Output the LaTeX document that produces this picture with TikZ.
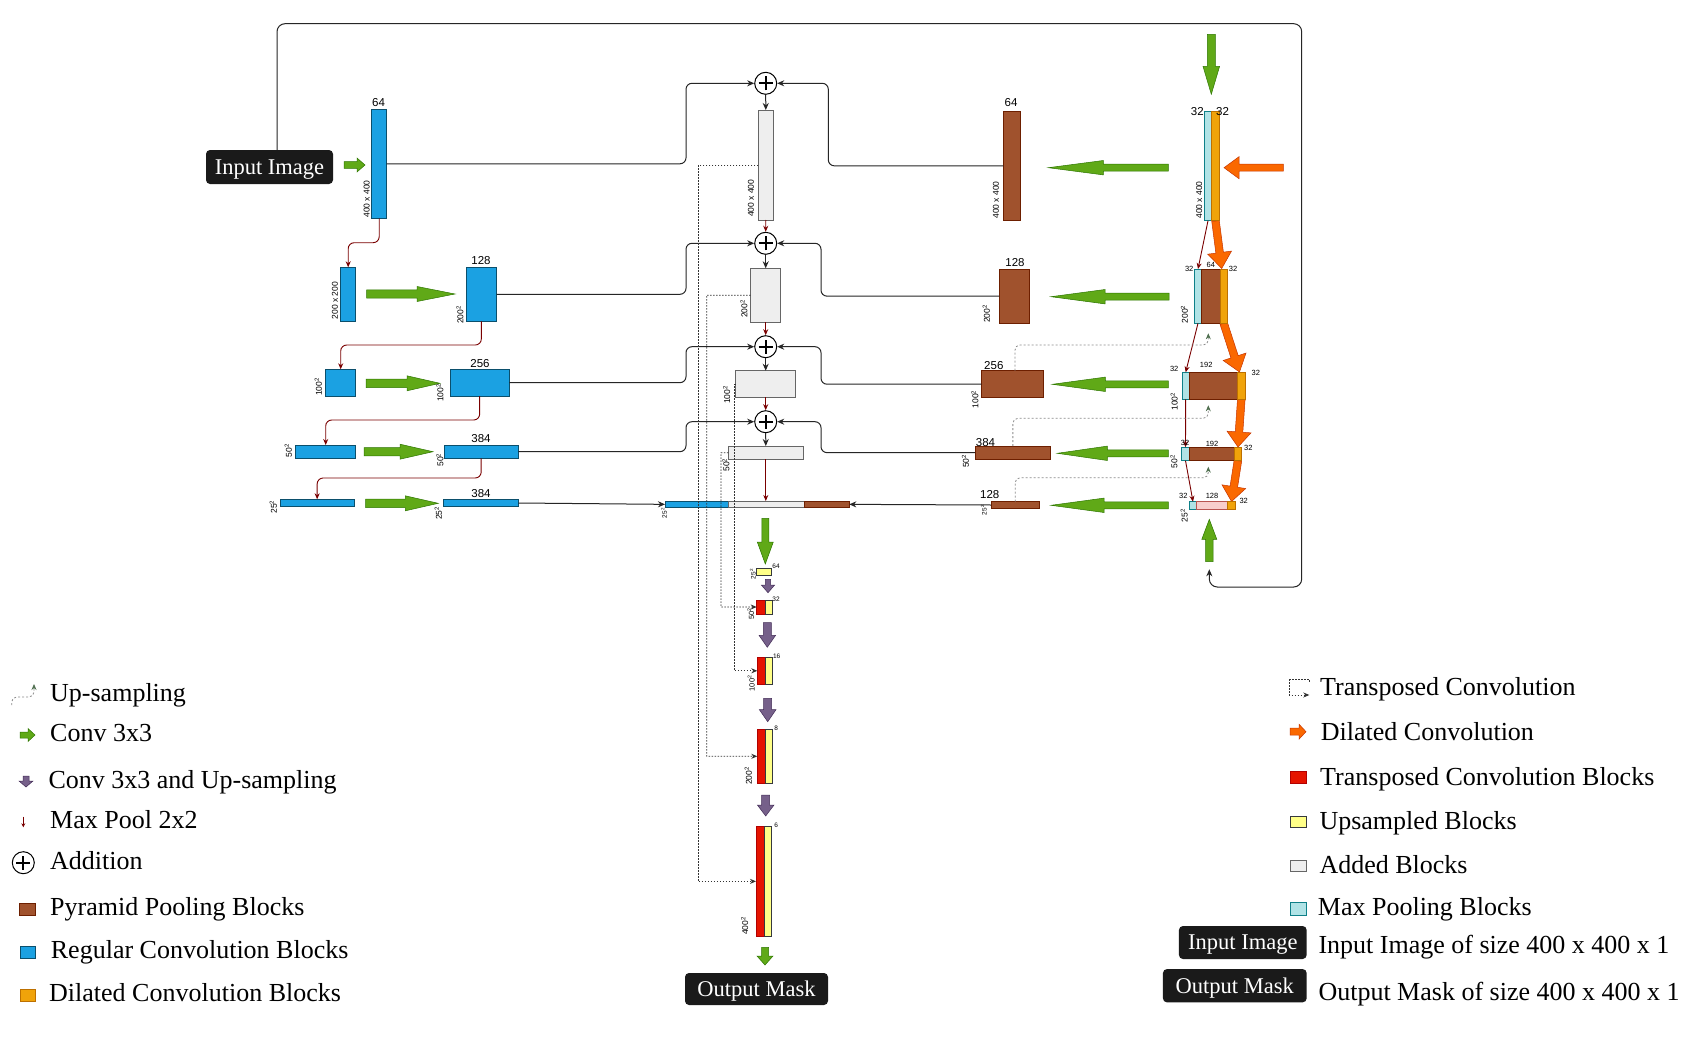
\documentclass[tikz,border=0pt]{standalone}
\usepackage{fontspec}
\setmainfont{Liberation Serif}
\setsansfont{Liberation Sans}
\usetikzlibrary{calc,arrows.meta}
\definecolor{cblue}{HTML}{1BA1E2}
\definecolor{cbluedk}{HTML}{0B4F6C}
\definecolor{cbrown}{HTML}{A0522D}
\definecolor{cbrowndk}{HTML}{6D1F00}
\definecolor{cgray}{HTML}{EEEEEE}
\definecolor{cgraydk}{HTML}{666666}
\definecolor{ccyan}{HTML}{B0E3E6}
\definecolor{ccyandk}{HTML}{0E8088}
\definecolor{corange}{HTML}{F0A30A}
\definecolor{corangedk}{HTML}{BD7000}
\definecolor{cdil}{HTML}{FA6800}
\definecolor{cdildk}{HTML}{C73500}
\definecolor{cgreen}{HTML}{60A917}
\definecolor{cgreendk}{HTML}{2D7600}
\definecolor{cpurple}{HTML}{76608A}
\definecolor{cpurpledk}{HTML}{432D57}
\definecolor{cred}{HTML}{E51400}
\definecolor{creddk}{HTML}{B20000}
\definecolor{cyellow}{HTML}{FFFF88}
\definecolor{cyellowdk}{HTML}{36393D}
\definecolor{cpink}{HTML}{F8CECC}
\definecolor{cpinkdk}{HTML}{B85450}
\definecolor{cpool}{HTML}{7A0000}
\definecolor{cbox}{HTML}{1A1A1A}
\definecolor{cup}{HTML}{4F6F4F}

\newcommand{\mkblock}[6]{\node[#2, minimum width={(#5)-(#3)}, minimum height={(#6)-(#4)}] (#1) at ({((#3)+(#5))/2},{((#4)+(#6))/2}) {};}
\newcommand{\barrow}[6]{%
 \coordinate (ba-s) at (#2);
 \coordinate (ba-e) at (#3);
 \coordinate (ba-h) at ($(ba-e)!#6pt!(ba-s)$);
 \draw[#1] ($(ba-s)!#4pt!90:(ba-e)$) -- ($(ba-h)!#4pt!-90:(ba-s)$) -- ($(ba-h)!#5pt!-90:(ba-s)$) -- (ba-e) -- ($(ba-h)!#5pt!90:(ba-s)$) -- ($(ba-h)!#4pt!90:(ba-s)$) -- ($(ba-s)!#4pt!-90:(ba-e)$) -- cycle;}

\tikzset{
 blkbase/.style={inner sep=0pt, outer sep=0pt, line width=0.8pt},
 blueblk/.style={blkbase, fill=cblue, draw=cbluedk},
 brownblk/.style={blkbase, fill=cbrown, draw=cbrowndk},
 grayblk/.style={blkbase, fill=cgray, draw=cgraydk},
 cyanblk/.style={blkbase, fill=ccyan, draw=ccyandk},
 orangeblk/.style={blkbase, fill=corange, draw=corangedk},
 redblk/.style={blkbase, fill=cred, draw=creddk},
 yelblk/.style={blkbase, fill=cyellow, draw=cyellowdk},
 pinkblk/.style={blkbase, fill=cpink, draw=cpinkdk},
 garrow/.style={fill=cgreen, draw=cgreendk, line width=0.5pt},
 oarrow/.style={fill=cdil, draw=cdildk, line width=0.5pt},
 parrow/.style={fill=cpurple, draw=cpurpledk, line width=0.5pt},
 conn/.style={draw=black!85, line width=1pt, rounded corners=6pt, -{Stealth[length=7pt,width=6pt]}},
 pool/.style={draw=cpool, line width=0.9pt, rounded corners=6pt, -{Stealth[length=6pt,width=5pt]}},
 tconv/.style={draw=black!80, line width=0.8pt, dash pattern=on 1.5pt off 1.5pt, -{Stealth[length=6pt,width=5pt]}},
 tconvline/.style={draw=black!80, line width=0.8pt, dash pattern=on 1.5pt off 1.5pt},
 upsm/.style={draw=black!45, line width=0.8pt, dash pattern=on 2pt off 2pt, rounded corners=5pt, -{Stealth[length=6pt,width=5pt,color=cup]}},
 addc/.style={circle, draw=black, line width=1pt, fill=white, minimum size=22pt, inner sep=0pt,
   path picture={
    \draw[line width=2.3pt] ($(path picture bounding box.center)+(-7pt,0pt)$) -- ($(path picture bounding box.center)+(7pt,0pt)$);
    \draw[line width=2.3pt] ($(path picture bounding box.center)+(0pt,-7pt)$) -- ($(path picture bounding box.center)+(0pt,7pt)$);}},
 blackbox/.style={rounded corners=4pt, fill=cbox, text=white, font=\fontsize{22.5}{26}\selectfont, inner sep=0pt, text height=14.8pt, text depth=0pt},
 num/.style={font=\sffamily\fontsize{11.5}{12}\selectfont, inner sep=0pt},
 sml/.style={font=\sffamily\fontsize{7.5}{8}\selectfont, inner sep=0pt},
 tnum/.style={font=\sffamily\fontsize{6.5}{7}\selectfont, inner sep=0pt},
 sz/.style={font=\sffamily\fontsize{8.5}{9}\selectfont, inner sep=0pt, rotate=90},
 szs/.style={font=\sffamily\fontsize{7.5}{8}\selectfont, inner sep=0pt, rotate=90},
 tinysz/.style={font=\sffamily\fontsize{6.5}{7}\selectfont, inner sep=0pt, rotate=90},
 legtxt/.style={font=\fontsize{26}{30}\selectfont, anchor=base west, inner sep=0pt}
}

\begin{document}
\begin{tikzpicture}[x=1pt,y=-1pt]
\fill[white] (0,0) rectangle (1690,1049);
\useasboundingbox (0,0) rectangle (1690,1049);

% ---------- orange dilated arrows (behind blocks)
\barrow{oarrow}{1215.5,221}{1221.7,268.5}{3.8}{12}{16}
\barrow{oarrow}{1223.7,323.3}{1239.5,372}{3.8}{12}{16}
\barrow{oarrow}{1241.3,399.3}{1238,447}{3.8}{12}{15}
\barrow{oarrow}{1237.9,460.7}{1231.5,501.5}{3.8}{12}{15}
\barrow{oarrow}{1283.3,167.7}{1224,167.7}{3.5}{11}{15}

% ---------- left encoder column
\mkblock{b64}{blueblk}{371.7}{109.3}{386.7}{218.3}
\mkblock{b200}{blueblk}{340.7}{267.3}{355.7}{321.3}
\mkblock{b128}{blueblk}{466}{267.3}{496.7}{321.3}
\mkblock{b100}{blueblk}{325.7}{369.3}{355.7}{396}
\mkblock{b256}{blueblk}{450}{369.3}{509.3}{396}
\mkblock{b50}{blueblk}{295.7}{445}{355.7}{458.3}
\mkblock{b384}{blueblk}{444}{445}{518.3}{458.3}
\mkblock{b25}{blueblk}{280}{499.3}{354.3}{506.7}
\mkblock{b384b}{blueblk}{443.3}{499.3}{518.3}{506.7}

% ---------- centre column
\mkblock{g1}{grayblk}{758.3}{110}{773.3}{220}
\mkblock{g2}{grayblk}{750.7}{268.3}{780.7}{322}
\mkblock{g3}{grayblk}{735.7}{370.7}{795.7}{397.3}
\mkblock{g4}{grayblk}{728.3}{446}{803.3}{459.3}
\mkblock{bar1}{blueblk}{665}{501}{728.3}{507.7}
\mkblock{bar2}{grayblk}{728.3}{501}{804}{507.7}
\mkblock{bar3}{brownblk}{804}{501}{849.3}{507.7}
\node[addc] (add1) at (765.7,83.3) {};
\node[addc] (add2) at (765.7,243.3) {};
\node[addc] (add3) at (765.7,346.7) {};
\node[addc] (add4) at (765.7,421.7) {};

% ---------- decoder
\mkblock{y1}{yelblk}{756.7}{568.3}{771.7}{575}
\mkblock{d2r}{redblk}{756.7}{600}{765}{614}
\mkblock{d2y}{yelblk}{765}{600}{772.3}{614}
\mkblock{d3r}{redblk}{757.3}{657.3}{765.7}{684.3}
\mkblock{d3y}{yelblk}{765.7}{657.3}{772.3}{684.3}
\mkblock{d4r}{redblk}{757.3}{729.3}{765}{783.3}
\mkblock{d4y}{yelblk}{765}{729.3}{772.3}{783.3}
\mkblock{d5r}{redblk}{756}{826.7}{764.3}{936}
\mkblock{d5y}{yelblk}{764.3}{826.7}{771.7}{936}

% ---------- pyramid pooling column
\mkblock{br64}{brownblk}{1003.3}{111}{1020.3}{220.7}
\mkblock{br128}{brownblk}{999.3}{269}{1029.3}{323.3}
\mkblock{br256}{brownblk}{981.7}{370.7}{1043.3}{397.7}
\mkblock{br384}{brownblk}{975}{446}{1050.7}{459.3}
\mkblock{br128s}{brownblk}{991}{501.7}{1039.3}{508.3}

% ---------- right cluster
\mkblock{c1}{cyanblk}{1204.3}{111.7}{1211.7}{220.7}
\mkblock{o1}{orangeblk}{1211.7}{111.7}{1219.3}{220.7}
\mkblock{c2}{cyanblk}{1194.3}{269}{1201.7}{323.3}
\mkblock{r2}{brownblk}{1201.7}{269}{1220}{323.3}
\mkblock{o2}{orangeblk}{1220}{269}{1227.3}{323.3}
\mkblock{c3}{cyanblk}{1182.3}{372.3}{1189}{399.3}
\mkblock{r3}{brownblk}{1189}{372.3}{1237.7}{399.3}
\mkblock{o3}{orangeblk}{1237.7}{372.3}{1245}{399.3}
\mkblock{c4}{cyanblk}{1181.7}{447.3}{1189.3}{460.7}
\mkblock{r4}{brownblk}{1189.3}{447.3}{1234}{460.7}
\mkblock{o4}{orangeblk}{1234}{447.3}{1241.7}{460.7}
\mkblock{c5}{cyanblk}{1189.3}{501.7}{1196.7}{509}
\mkblock{p5}{pinkblk}{1196.7}{501.7}{1227.3}{509}
\mkblock{o5}{orangeblk}{1227.3}{501.7}{1235}{509}

% ---------- boxes
\node[blackbox, minimum width=127pt, minimum height=34pt] (inimg) at (269.5,167) {Input Image};
\node[blackbox, minimum width=143pt, minimum height=32pt] (outm) at (756.5,989) {Output Mask};

% ---------- green conv arrows
\barrow{garrow}{344,165}{365,165}{3.3}{7}{8}
\barrow{garrow}{366.7,294}{455,294}{4.2}{7.5}{38}
\barrow{garrow}{366,383.3}{440,383.3}{4.2}{7.5}{33}
\barrow{garrow}{364,451.7}{433,451.7}{4.2}{7.5}{33}
\barrow{garrow}{365.7,503.3}{438.3,503.3}{4.2}{7.5}{33}
\barrow{garrow}{1168.3,167.7}{1048.3,167.7}{3.5}{7.2}{55}
\barrow{garrow}{1169,296.7}{1051,296.7}{3.5}{7.2}{54}
\barrow{garrow}{1168.3,384.3}{1052.3,384.3}{3.5}{7.2}{53}
\barrow{garrow}{1168.3,453.3}{1057.3,453.3}{3.5}{7.2}{50}
\barrow{garrow}{1168.3,505.3}{1051,505.3}{3.5}{7.2}{53}
\barrow{garrow}{1211.3,34.3}{1211.3,94.3}{4}{8.3}{28}
\barrow{garrow}{1209.3,561.7}{1209.3,519.3}{3.8}{7.5}{20}
\barrow{garrow}{765.3,518.3}{765.3,564}{3.5}{8}{22}
\barrow{garrow}{765,947.3}{765,965}{3.5}{8}{9}

% ---------- purple arrows
\barrow{parrow}{768,579.3}{768,592.7}{2.7}{6.5}{7.5}
\barrow{parrow}{767.3,622.7}{767.3,647.3}{4}{8.3}{12}
\barrow{parrow}{767.7,698.3}{767.7,721.7}{4}{8.3}{12}
\barrow{parrow}{765.7,795}{765.7,816}{4}{8.3}{11}

% ---------- connectors to additions
\draw[conn] (b64.east) -| (686,83.3) -- (add1.west);
\draw[conn] (br64.west) -| (828.3,83.3) -- (add1.east);
\draw[conn] (b128.east) -| (686,243.3) -- (add2.west);
\draw[conn] (br128.west) -| (821,243.3) -- (add2.east);
\draw[conn] (b256.east) -| (686,346.7) -- (add3.west);
\draw[conn] (br256.west) -| (821,346.7) -- (add3.east);
\draw[conn] (b384.east) -| (686,421.7) -- (add4.west);
\draw[conn] (br384.west) -| (821,421.7) -- (add4.east);
\draw[conn] (add1.south) -- (g1.north);
\draw[conn] (add2.south) -- (g2.north);
\draw[conn] (add3.south) -- (g3.north);
\draw[conn] (add4.south) -- (g4.north);
\draw[pool] (g1.south) -- (add2.north);
\draw[pool] (g2.south) -- (add3.north);
\draw[pool] (g3.south) -- (add4.north);
\draw[pool] (g4.south) -- (g4.south |- bar2.north);
\draw[conn] (b384b.east) -- (bar1.west);
\draw[conn] (br128s.west) -- (bar3.east);

% ---------- max pooling (left)
\draw[pool] (b64.south) -- (379.2,242.7) -| (b200.north);
\draw[pool] (b128.south) -- (481.3,345) -| (b100.north);
\draw[pool] (b256.south) -- (479.7,420) -| (b50.north);
\draw[pool] (b384.south) -- (481.2,478) -| (b25.north);

% ---------- max pooling (right)
\draw[pool] (c1.south) -- (c2.north);
\draw[pool] (c2.south) -- (c3.north);
\draw[pool] (c3.south) -- (c4.north);
\draw[pool] (c4.south) -- (c5.north);

% ---------- transposed convolutions
\draw[tconv] (g1.west) -- (698.3,165) |- (d5r.west);
\draw[tconv] (g2.west) -- (706.7,295.2) |- (d4r.west);
\draw[tconv] (g3.west) -- (734.7,384) |- (d3r.west);
\draw[tconv] (g4.west) -- (721,452.7) |- (d2r.west);

% ---------- up-sampling
\coordinate (up1) at (1208.3,333.3);
\coordinate (up2) at (1208.3,405.3);
\coordinate (up3) at (1208.3,466.7);
\draw[upsm] ([xshift=2.5pt]br256.north) |- (1208.3,345) -- (up1);
\draw[upsm] (br384.north) |- (1208.3,418.3) -- (up2);
\draw[upsm] (br128s.north) |- (1208.3,477.7) -- (up3);

% ---------- feedback loop
\coordinate (fb) at (1209.3,569.3);
\draw[conn, rounded corners=8pt] ([xshift=7.5pt]inimg.north) -- (277,23.7) -- (1301.7,23.7) -- (1301.7,587) -- (1209.3,587) -- (fb);

% ---------- labels: channels
\node[num] (n1) at (378.5,103) {64};
\node[num] (n2) at (481,260.5) {128};
\node[num] (n3) at (480,364) {256};
\node[num] (n4) at (481,439) {384};
\node[num] (n5) at (481,494) {384};
\node[num] (n6) at (1011,102.3) {64};
\node[num] (n7) at (1015,262.3) {128};
\node[num] (n8) at (993.8,365.8) {256};
\node[num] (n9) at (985.5,442.5) {384};
\node[num] (n10) at (989.7,494.2) {128};
\node[num] (n11) at (1197.3,112) {32};
\node[num] (n12) at (1222.5,112) {32};
\node[sml] (m1) at (1189.2,269) {32};
\node[sml] (m2) at (1210.8,265.3) {64};
\node[sml] (m3) at (1233,269) {32};
\node[sml] (m4) at (1174.2,368.7) {32};
\node[sml] (m5) at (1206.2,365) {192};
\node[sml] (m6) at (1255.8,372.5) {32};
\node[sml] (m7) at (1185,442.7) {32};
\node[sml] (m8) at (1212,443.7) {192};
\node[sml] (m9) at (1248.3,447.8) {32};
\node[sml] (m10) at (1183.3,496.3) {32};
\node[sml] (m11) at (1212,496.3) {128};
\node[sml] (m12) at (1243.7,501.3) {32};
\node[tnum] (k1) at (776,566) {64};
\node[tnum] (k2) at (776,599) {32};
\node[tnum] (k3) at (776.7,656.7) {16};
\node[tnum] (k4) at (776.2,728.3) {8};
\node[tnum] (k5) at (776.2,825.5) {6};

% ---------- labels: sizes
\node[sz] (s1) at (366.7,199) {400 x 400};
\node[sz] (s2) at (335,300.5) {200 x 200};
\node[sz] (s3) at (460,315) {200\textsuperscript{2}};
\node[sz] (s4) at (318.3,387) {100\textsuperscript{2}};
\node[sz] (s5) at (440,393) {100\textsuperscript{2}};
\node[sz] (s6) at (288.3,450.7) {50\textsuperscript{2}};
\node[sz] (s7) at (440,460) {50\textsuperscript{2}};
\node[sz] (s8) at (273.3,507) {25\textsuperscript{2}};
\node[sz] (s9) at (438.3,513.3) {25\textsuperscript{2}};
\node[sz] (s10) at (751,198.3) {400 x 400};
\node[sz] (s11) at (744,309) {200\textsuperscript{2}};
\node[sz] (s12) at (726.7,395) {100\textsuperscript{2}};
\node[sz] (s13) at (726,465) {50\textsuperscript{2}};
\node[tinysz] (s14) at (664,513) {25\textsuperscript{2}};
\node[sz] (s15) at (996,200) {400 x 400};
\node[sz] (s16) at (986.3,314) {200\textsuperscript{2}};
\node[sz] (s17) at (975,399.2) {100\textsuperscript{2}};
\node[sz] (s18) at (965.5,461.2) {50\textsuperscript{2}};
\node[tinysz] (s19) at (983.8,510) {25\textsuperscript{2}};
\node[sz] (s20) at (1199.2,200) {400 x 400};
\node[sz] (s21) at (1184.5,314.2) {200\textsuperscript{2}};
\node[sz] (s22) at (1174.2,401.7) {100\textsuperscript{2}};
\node[sz] (s23) at (1174,461.7) {50\textsuperscript{2}};
\node[sz] (s24) at (1184.2,515.5) {25\textsuperscript{2}};
\node[tinysz] (s25) at (752.8,574) {25\textsuperscript{2}};
\node[szs] (s26) at (750.8,614) {50\textsuperscript{2}};
\node[szs] (s27) at (751.2,683.3) {100\textsuperscript{2}};
\node[sz] (s28) at (748.3,775.8) {200\textsuperscript{2}};
\node[sz] (s29) at (744.7,925.8) {400\textsuperscript{2}};

% ---------- legend left
\coordinate (lu1) at (11.7,705);
\coordinate (lu2) at (34,684);
\draw[upsm] (lu1) -- (11.7,697) -- (34,697) -- (lu2);
\barrow{garrow}{20,735}{35,735}{3}{6.5}{7}
\barrow{parrow}{26,776}{26,787}{3}{7}{6}
\coordinate (lp1) at (23.3,816.7);
\coordinate (lp2) at (23.3,827.3);
\draw[draw=cpool, line width=0.9pt, -{Stealth[length=4pt,width=4pt]}] (lp1) -- (lp2);
\node[addc] (ladd) at (23.3,862.7) {};
\mkblock{lpyr}{brownblk}{19.3}{903.3}{35}{915}
\mkblock{lreg}{blueblk}{20}{946.7}{35}{958.3}
\mkblock{ldil}{orangeblk}{20}{989.3}{35}{1001.7}
\node[legtxt] (t1) at (50,701.7) {Up-sampling};
\node[legtxt] (t2) at (50,741.7) {Conv 3x3};
\node[legtxt] (t3) at (48.3,788.3) {Conv 3x3 and Up-sampling};
\node[legtxt] (t4) at (50,828.3) {Max Pool 2x2};
\node[legtxt] (t5) at (50,869) {Addition};
\node[legtxt] (t6) at (50,915) {Pyramid Pooling Blocks};
\node[legtxt] (t7) at (50.7,958.3) {Regular Convolution Blocks};
\node[legtxt] (t8) at (49,1001.7) {Dilated Convolution Blocks};

% ---------- legend right
\coordinate (ltc) at (1309.3,695);
\draw[tconvline] (1289.3,679.3) -- (1309.3,679.3) -- (1309.3,682.7);
\draw[tconv] (1289.3,679.3) -- (1289.3,695) -- (ltc);
\barrow{oarrow}{1290,731.7}{1306,731.7}{3.5}{7.5}{7}
\mkblock{ltcb}{redblk}{1290}{771.7}{1306}{783.3}
\mkblock{lupb}{yelblk}{1290}{816}{1306}{827.7}
\mkblock{ladb}{grayblk}{1290}{860}{1306}{871.7}
\mkblock{lmpb}{cyanblk}{1290}{902.7}{1306}{915}
\node[blackbox, minimum width=127.7pt, minimum height=33pt] (linimg) at (1242.8,942.5) {Input Image};
\node[blackbox, minimum width=143.7pt, minimum height=33.3pt] (loutm) at (1234.8,985.7) {Output Mask};
\node[legtxt] (u1) at (1320,695) {Transposed Convolution};
\node[legtxt] (u2) at (1320.7,740) {Dilated Convolution};
\node[legtxt] (u3) at (1320,785) {Transposed Convolution Blocks};
\node[legtxt] (u4) at (1319.3,829) {Upsampled Blocks};
\node[legtxt] (u5) at (1319.3,873.3) {Added Blocks};
\node[legtxt] (u6) at (1317.7,915) {Max Pooling Blocks};
\node[legtxt] (u7) at (1318.3,953.3) {Input Image of size 400 x 400 x 1};
\node[legtxt] (u8) at (1318.3,1000) {Output Mask of size 400 x 400 x 1};
\end{tikzpicture}
\end{document}
